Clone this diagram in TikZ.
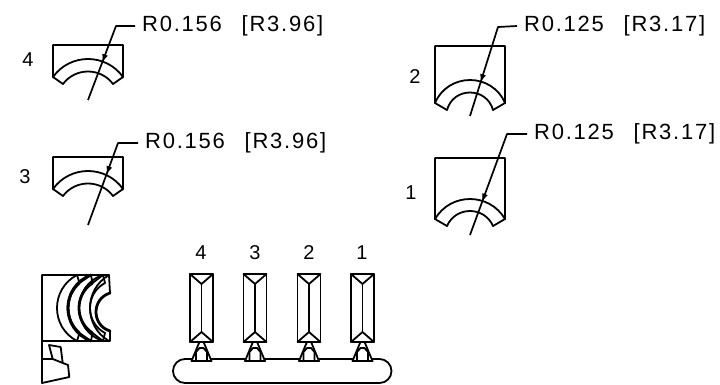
\documentclass[tikz,border=0pt]{standalone}
\usepackage{fontspec}
\setmainfont{Liberation Sans}
\newfontfamily\caddim[LetterSpace=8]{Liberation Sans}
\usetikzlibrary{arrows.meta,calc}
\tikzset{
  cad/.style={line width=1.8pt,line join=round,line cap=round},
  heavy/.style={line width=2.8pt,line join=round,line cap=round},
  dimtext/.style={font=\caddim\fontsize{22}{24}\selectfont,anchor=west,inner sep=0pt},
  numtext/.style={font=\fontsize{20}{22}\selectfont,inner sep=0pt},
  pointer/.style={line width=1.7pt,line join=round},
  tipline/.style={line width=1pt,-{Latex[length=8pt,width=6pt]}},
  nozzlefill/.style={cad,fill=white}
}
\newcommand{\uparc}[5][cad]{%
  \pgfmathsetmacro{\sg}{(#4)-(#5)}%
  \pgfmathsetmacro{\hc}{((#3)-(#2))/2}%
  \pgfmathsetmacro{\th}{2*atan(\sg/\hc)}%
  \pgfmathsetmacro{\dd}{(4/3*\sg)/tan(\th)}%
  \draw[#1] (#2,#4) .. controls ({#2+\dd},{#4-4/3*\sg}) and ({#3-\dd},{#4-4/3*\sg}) .. (#3,#4);
}
\newcommand{\leftarc}[5][cad]{%
  \pgfmathsetmacro{\sg}{(#2)-(#5)}%
  \pgfmathsetmacro{\hc}{((#4)-(#3))/2}%
  \pgfmathsetmacro{\th}{2*atan(\sg/\hc)}%
  \pgfmathsetmacro{\dd}{(4/3*\sg)/tan(\th)}%
  \draw[#1] (#2,#3) .. controls ({#2-4/3*\sg},{#3+\dd}) and ({#2-4/3*\sg},{#4-\dd}) .. (#2,#4);
}
\newcommand{\toolview}[7]{%
  \pgfmathsetmacro{\rgt}{#1+70}%
  \pgfmathsetmacro{\ia}{#1+#7}%
  \pgfmathsetmacro{\ib}{#1+70-#7}%
  \draw[cad] (\ia,#4) -- (#1,#3) -- (#1,#2) -- (\rgt,#2) -- (\rgt,#3) -- (\ib,#4);
  \uparc{#1}{\rgt}{#3}{#5}
  \uparc{\ia}{\ib}{#4}{#6}
}
\newcommand{\nozzle}[1]{%
  \draw[nozzlefill] ({#1-2.5},343) -- ({#1-10},361) -- ({#1+10},361) -- ({#1+2.5},343);
  \draw[cad] ({#1-5.5},361) -- ({#1-5.5},352) -- ({#1-2},348) -- ({#1+2},348) -- ({#1+5.5},352) -- ({#1+5.5},361);
}
\newcommand{\cartridge}[1]{%
  \draw[cad] ({#1-11.5},274) rectangle ({#1+11.5},342);
  \draw[cad] ({#1-11.5},274) -- (#1,284) -- ({#1+11.5},274);
  \draw[cad] ({#1-11.5},342) -- (#1,332) -- ({#1+11.5},342);
  \draw[cad] (#1,284) -- (#1,332);
}
\begin{document}
\begin{tikzpicture}[x=1pt,y=-1pt]
\useasboundingbox (0,0) rectangle (720,384);
\toolview{53}{45}{77}{84}{59}{71.5}{10}
\toolview{53}{157}{189}{196}{171}{183.5}{10}
\toolview{435}{46}{103}{110}{80}{92.5}{12}
\toolview{435}{158}{219}{226}{199}{211}{12}
\node[numtext] (n4) at (28,60) {4};
\node[numtext] (n3) at (25,177) {3};
\node[numtext] (n2) at (415,77) {2};
\node[numtext] (n1) at (411,193) {1};
\node[numtext] (t4) at (201,253) {4};
\node[numtext] (t3) at (255,253) {3};
\node[numtext] (t2) at (309,253) {2};
\node[numtext] (t1) at (362,253) {1};
\node[dimtext] (d4) at (142,26) {R0.156\hspace{0.9em}[R3.96]};
\node[dimtext] (d3) at (145,143) {R0.156\hspace{0.9em}[R3.96]};
\node[dimtext] (d2) at (524,26) {R0.125\hspace{0.9em}[R3.17]};
\node[dimtext] (d1) at (534,134) {R0.125\hspace{0.9em}[R3.17]};
\coordinate (e4) at (88,100); \coordinate (b4) at (116,26);
\coordinate (e3) at (88,225); \coordinate (b3) at (118,143);
\coordinate (e2) at (470,116); \coordinate (b2) at (498,27);
\coordinate (e1) at (470,235); \coordinate (b1) at (507,134);
\draw[pointer] (e4) -- (b4) -- ([xshift=-7pt]d4.west);
\draw[pointer] (e3) -- (b3) -- ([xshift=-7pt]d3.west);
\draw[pointer] (e2) -- (b2) -- ([xshift=-7pt]d2.west);
\draw[pointer] (e1) -- (b1) -- ([xshift=-7pt]d1.west);
\draw[tipline] ($(e4)!0.62!(b4)$) -- ($(e4)!0.51!(b4)$);
\draw[tipline] ($(e3)!0.72!(b3)$) -- ($(e3)!0.62!(b3)$);
\draw[tipline] ($(e2)!0.47!(b2)$) -- ($(e2)!0.38!(b2)$);
\draw[tipline] ($(e1)!0.41!(b1)$) -- ($(e1)!0.33!(b1)$);
% side view, lower left
\draw[cad] (42,341) -- (42,275) -- (109,275) -- (110,293);
\draw[cad] (42,341) -- (110,341) -- (110,331);
\leftarc{77}{275}{341}{57}
\leftarc[heavy]{79.5}{283}{333}{68}
\leftarc[heavy]{91}{275}{341}{68}
\leftarc[heavy]{92.5}{283}{333}{79}
\leftarc[cad]{103}{275}{341}{79}
\leftarc[cad]{105}{283}{333}{90}
\leftarc[cad]{109}{275}{341}{90}
\leftarc[heavy]{110}{293}{331}{96}
\draw[cad] (77,275) -- (79.5,283) (77,341) -- (79.5,333);
\draw[cad] (79.5,283) -- (91,275) (79.5,333) -- (91,341);
\draw[cad] (91,275) -- (92.5,283) (91,341) -- (92.5,333);
\draw[cad] (92.5,283) -- (103,275) (92.5,333) -- (103,341);
\draw[cad] (103,275) -- (105,283) (103,341) -- (105,333);
\draw[cad] (42,341) -- (42,383) -- (69.3,377) -- (68,365) -- (52.7,359) -- (42,359);
\draw[cad] (52.7,359) -- (49,345) -- (60.7,347) -- (62.7,363);
% cartridges and carrier bar
\cartridge{201.5}
\cartridge{255}
\cartridge{309}
\cartridge{362.5}
\draw[cad] (185,359) -- (379.5,359) arc[start angle=-90,end angle=90,radius=12] -- (185,383) arc[start angle=90,end angle=270,radius=12] -- cycle;
\nozzle{201.5}
\nozzle{255}
\nozzle{309}
\nozzle{362.5}
\end{tikzpicture}
\end{document}
